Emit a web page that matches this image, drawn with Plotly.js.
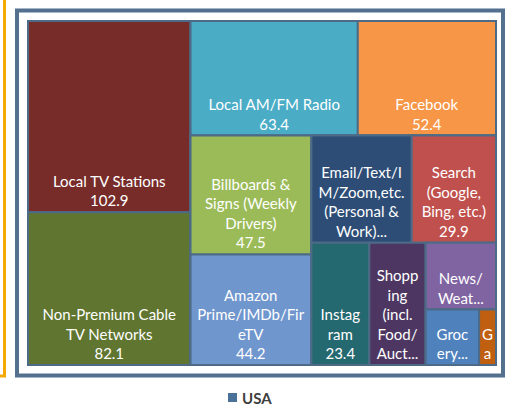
<!DOCTYPE html>
<html>
<head>
<meta charset="utf-8">
<script src="https://cdn.plot.ly/plotly-3.0.1.min.js"></script>
<style>
  html, body { margin: 0; padding: 0; background: #fff; }
  #chart { width: 506px; height: 409px; }
</style>
</head>
<body>
<div id="chart"></div>
<script>
// leaf categories (text as wrapped in the original)
const labels = [
  'Local TV Stations',
  'Non-Premium Cable<br>TV Networks',
  'Local AM/FM Radio',
  'Facebook',
  'Billboards &<br>Signs (Weekly<br>Drivers)',
  'Amazon<br>Prime/IMDb/Fir<br>eTV',
  'Email/Text/I<br>M/Zoom,etc.<br>(Personal &<br>Work)...',
  'Search<br>(Google,<br>Bing, etc.)',
  'Instag<br>ram',
  'Shopp<br>ing<br>(incl.<br>Food/<br>Auct...',
  'News/<br>Weat...',
  'Groc<br>ery...',
  'G<br>a'
];
const values = [102.9, 82.1, 63.4, 52.4, 47.5, 44.2, 35.6, 29.9, 23.4, 22.8, 15.5, 9.8, 3.1];
const showValue = [true, true, true, true, true, true, false, true, true, false, false, false, false];
const colors = ['#772c2a', '#5f7530', '#4bacc6', '#f79646', '#9bbb59', '#6f96cd', '#2d4d76',
                '#c0504d', '#246870', '#4d3762', '#8064a2', '#4f81bd', '#c05f10'];

// grouping so the slice/dice packing gives the same blocks as the original
const groupIds = ['all', 'c1', 'r', 'rf', 'b', 'ba', 'rt', 'es', 'r2', 'ng', 'gg'];
const groupParents = ['', 'all', 'all', 'r', 'r', 'b', 'b', 'rt', 'rt', 'r2', 'ng'];
const leafParents = ['c1', 'c1', 'rf', 'rf', 'ba', 'ba', 'es', 'es', 'r2', 'r2', 'ng', 'gg', 'gg'];

const ids = [], names = [], parents = [], vals = [], cols = [], tmpl = [];
// leaves first, so sibling order matches the original when a group sits after leaves
labels.forEach((l, i) => {
  ids.push('leaf' + i); names.push(l); parents.push(leafParents[i]); vals.push(values[i]);
  cols.push(colors[i]); tmpl.push(showValue[i] ? '%{label}<br>%{value:.1f}' : '%{label}');
});
groupIds.forEach((g, i) => {
  ids.push(g); names.push(''); parents.push(groupParents[i]); vals.push(0);
  cols.push('#4d6b86'); tmpl.push('');
});

const W = 506, H = 409;
const px = x => x / W;
const py = y => 1 - y / H;

const trace = {
  type: 'treemap',
  ids: ids,
  labels: names,
  parents: parents,
  values: vals,
  branchvalues: 'remainder',
  sort: false,
  texttemplate: tmpl,
  textposition: 'bottom center',
  textfont: { family: 'Lato, sans-serif', size: 15, color: '#ffffff' },
  hoverinfo: 'none',
  marker: {
    colors: cols,
    line: { width: 2, color: '#4d6b86' },
    pad: { t: 0, l: 0, r: 0, b: 0 }
  },
  tiling: { packing: 'slice-dice', pad: 0 },
  pathbar: { visible: false },
  domain: { x: [px(28), px(496)], y: [py(365), py(21)] }
};

const layout = {
  width: W,
  height: H,
  margin: { l: 0, r: 0, t: 0, b: 0 },
  paper_bgcolor: '#ffffff',
  uniformtext: { minsize: 15, mode: 'show' },
  shapes: [
    // orange edge of neighbouring box
    { type: 'line', xref: 'paper', yref: 'paper', x0: px(4.5), x1: px(4.5), y0: py(0), y1: py(377),
      line: { color: '#f5a800', width: 3 } },
    { type: 'line', xref: 'paper', yref: 'paper', x0: px(0), x1: px(6), y0: py(376), y1: py(376),
      line: { color: '#f5a800', width: 3 } },
    // chart frame
    { type: 'rect', xref: 'paper', yref: 'paper', x0: px(17), x1: px(503), y0: py(10.5), y1: py(375.5),
      line: { color: '#53718f', width: 4 } },
    // legend swatch
    { type: 'rect', xref: 'paper', yref: 'paper', x0: px(228), x1: px(237), y0: py(393), y1: py(402),
      fillcolor: '#4a7298', line: { width: 0 } }
  ],
  annotations: [
    { xref: 'paper', yref: 'paper', x: px(240), y: py(397.5), xanchor: 'left', yanchor: 'middle',
      text: '<b>USA</b>', showarrow: false,
      font: { family: 'Lato, sans-serif', size: 15, color: '#404040' } }
  ]
};

Plotly.newPlot('chart', [trace], layout, { staticPlot: true });
</script>
</body>
</html>
